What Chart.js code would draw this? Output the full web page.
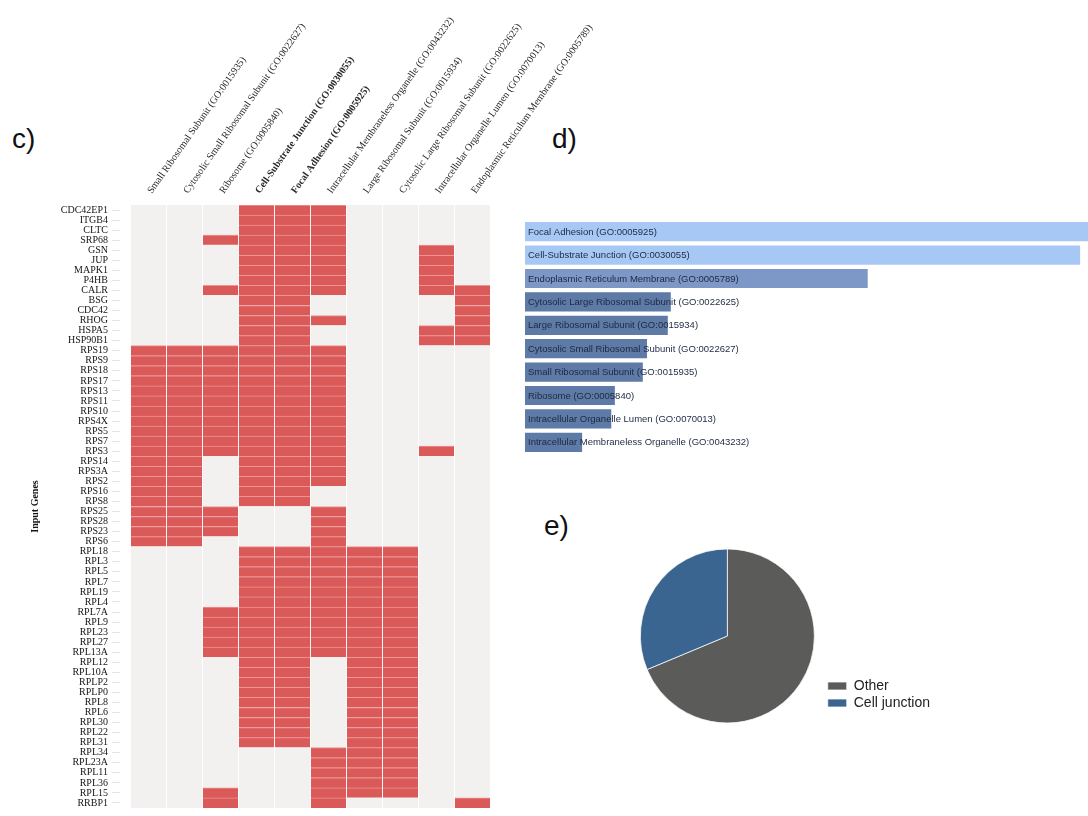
<!DOCTYPE html>
<html>
<head>
<meta charset="utf-8">
<title>Gene set enrichment overview</title>
<script src="https://cdn.jsdelivr.net/npm/chart.js@4.4.1/dist/chart.umd.min.js"></script>
<style>
  html, body { margin: 0; padding: 0; background: #ffffff; }
  body { width: 1088px; height: 816px; overflow: hidden; position: relative; }
  .panel { position: absolute; }
  .tag { position: absolute; font-family: "Liberation Sans", Arial, sans-serif; font-size: 28px; color: #111; line-height: 1; }
</style>
</head>
<body>
<div class="tag" style="left:12px; top:125px;">c)</div>
<div class="tag" style="left:552px; top:125px;">d)</div>
<div class="tag" style="left:544px; top:512px;">e)</div>

<div class="panel" style="left:0; top:0; width:640px; height:818px;"><canvas id="heat"></canvas></div>
<div class="panel" style="left:520px; top:210px; width:600px; height:250px;"><canvas id="bars"></canvas></div>
<div class="panel" style="left:625px; top:540px; width:315px; height:200px;"><canvas id="pie"></canvas></div>

<script>
// ---- c) gene × GO term membership ----
const terms = [
  'Small Ribosomal Subunit (GO:0015935)',
  'Cytosolic Small Ribosomal Subunit (GO:0022627)',
  'Ribosome (GO:0005840)',
  'Cell-Substrate Junction (GO:0030055)',
  'Focal Adhesion (GO:0005925)',
  'Intracellular Membraneless Organelle (GO:0043232)',
  'Large Ribosomal Subunit (GO:0015934)',
  'Cytosolic Large Ribosomal Subunit (GO:0022625)',
  'Intracellular Organelle Lumen (GO:0070013)',
  'Endoplasmic Reticulum Membrane (GO:0005789)'
];
const boldTerms = [
  'Cell-Substrate Junction (GO:0030055)',
  'Focal Adhesion (GO:0005925)'
];
const genes = [
  'CDC42EP1','ITGB4','CLTC','SRP68','GSN','JUP','MAPK1','P4HB','CALR','BSG',
  'CDC42','RHOG','HSPA5','HSP90B1','RPS19','RPS9','RPS18','RPS17','RPS13','RPS11',
  'RPS10','RPS4X','RPS5','RPS7','RPS3','RPS14','RPS3A','RPS2','RPS16','RPS8',
  'RPS25','RPS28','RPS23','RPS6','RPL18','RPL3','RPL5','RPL7','RPL19','RPL4',
  'RPL7A','RPL9','RPL23','RPL27','RPL13A','RPL12','RPL10A','RPLP2','RPLP0','RPL8',
  'RPL6','RPL30','RPL22','RPL31','RPL34','RPL23A','RPL11','RPL36','RPL15','RRBP1'
];
// term indices (into `terms`) that each gene belongs to
const geneHits = [
  [3,4,5],[3,4,5],[3,4,5],[2,3,4,5],[3,4,5,8],[3,4,5,8],[3,4,5,8],[3,4,5,8],[2,3,4,5,8,9],[3,4,9],
  [3,4,9],[3,4,5,9],[3,4,8,9],[3,4,8,9],[0,1,2,3,4,5],[0,1,2,3,4,5],[0,1,2,3,4,5],[0,1,2,3,4,5],[0,1,2,3,4,5],[0,1,2,3,4,5],
  [0,1,2,3,4,5],[0,1,2,3,4,5],[0,1,2,3,4,5],[0,1,2,3,4,5],[0,1,2,3,4,5,8],[0,1,3,4,5],[0,1,3,4,5],[0,1,3,4,5],[0,1,3,4],[0,1,3,4],
  [0,1,2,5],[0,1,2,5],[0,1,2,5],[0,1,5],[3,4,5,6,7],[3,4,5,6,7],[3,4,5,6,7],[3,4,5,6,7],[3,4,5,6,7],[3,4,5,6,7],
  [2,3,4,5,6,7],[2,3,4,5,6,7],[2,3,4,5,6,7],[2,3,4,5,6,7],[2,3,4,5,6,7],[3,4,6,7],[3,4,6,7],[3,4,6,7],[3,4,6,7],[3,4,6,7],
  [3,4,6,7],[3,4,6,7],[3,4,6,7],[3,4,6,7],[5,6,7],[5,6,7],[5,6,7],[5,6,7],[2,5,6,7],[2,5,9]
];

// ---- d) enrichment bar chart ----
const barTerms = [
  'Focal Adhesion (GO:0005925)',
  'Cell-Substrate Junction (GO:0030055)',
  'Endoplasmic Reticulum Membrane (GO:0005789)',
  'Cytosolic Large Ribosomal Subunit (GO:0022625)',
  'Large Ribosomal Subunit (GO:0015934)',
  'Cytosolic Small Ribosomal Subunit (GO:0022627)',
  'Small Ribosomal Subunit (GO:0015935)',
  'Ribosome (GO:0005840)',
  'Intracellular Organelle Lumen (GO:0070013)',
  'Intracellular Membraneless Organelle (GO:0043232)'
];
const barScores = [95.8, 93.3, 57.6, 24.5, 24.0, 20.5, 19.8, 15.1, 14.5, 9.6];

// ---- e) share of genes ----
const pieLabels = ['Other', 'Cell junction'];
const pieShares = [68.7, 31.3];

// ---------------- styling ----------------
const HIT = '#da5a5a', HIT_EDGE = '#f09292', EMPTY = '#f3f1ef';
const SERIF = '"Liberation Serif", "Times New Roman", serif';
const SANS = '"Liberation Sans", Arial, sans-serif';
const GAP = -0.28;        // blank strip between the tick marks and the first column
const LABEL_NUDGE = 0.82; // where each rotated term name starts, in column units

const heatSets = terms.map((t, c) => ({
  label: t,
  data: genes.map(() => [c, c + 1]),
  backgroundColor: geneHits.map(h => h.includes(c) ? HIT : EMPTY),
  borderColor: HIT_EDGE,
  borderWidth: geneHits.map(h => h.includes(c) ? {top: 1, bottom: 0, left: 0, right: 0} : 0),
  borderSkipped: false,
  barPercentage: 1,
  categoryPercentage: 1,
  grouped: false
}));

new Chart(document.getElementById('heat'), {
  type: 'bar',
  data: { labels: genes, datasets: heatSets },
  options: {
    indexAxis: 'y',
    responsive: true,
    maintainAspectRatio: false,
    animation: false,
    layout: { padding: { left: 0, right: 150, top: 0, bottom: 0 } },
    plugins: { legend: { display: false }, tooltip: { enabled: false } },
    scales: {
      x: {
        type: 'linear', position: 'bottom', min: GAP, max: terms.length,
        afterBuildTicks: s => { s.ticks = terms.map((_, i) => ({ value: i })).concat([{ value: terms.length }]); },
        afterFit: s => { s.height = 0; },
        ticks: { display: false },
        grid: { color: 'rgba(255,255,255,0.95)', lineWidth: 1, drawTicks: false, z: 1 },
        border: { display: false }
      },
      xTop: {
        type: 'linear', position: 'top', min: GAP, max: terms.length,
        afterBuildTicks: s => { s.ticks = terms.map((_, i) => ({ value: i + LABEL_NUDGE })); },
        afterFit: s => { s.height = 205; },
        ticks: {
          autoSkip: false, minRotation: 55, maxRotation: 55, padding: 9, color: '#2a2a2a',
          callback: (v, i) => terms[i],
          font: ctx => ({ family: SERIF, size: 10, weight: boldTerms.includes(terms[ctx.index]) ? 'bold' : 'normal' })
        },
        grid: { display: false, drawTicks: false },
        border: { display: false }
      },
      y: {
        type: 'category', offset: true,
        afterFit: s => { s.width = 120; },
        ticks: { autoSkip: false, color: '#151515', padding: 4, font: { family: SERIF, size: 10 } },
        grid: { offset: false, drawOnChartArea: false, drawTicks: true, tickLength: 8, color: '#e4e4e4' },
        border: { display: false },
        title: {
          display: true, text: 'Input Genes', color: '#151515',
          font: { family: SERIF, size: 10, weight: 'bold' },
          padding: { top: 29, bottom: 0 }
        }
      }
    }
  }
});

// term names written inside the enrichment bars
const barText = {
  id: 'barText',
  afterDatasetsDraw(chart) {
    const { ctx, chartArea } = chart;
    const meta = chart.getDatasetMeta(0);
    ctx.save();
    ctx.font = '9.5px ' + SANS;
    ctx.fillStyle = '#1d2940';
    ctx.textBaseline = 'middle';
    ctx.textAlign = 'left';
    meta.data.forEach((bar, i) => ctx.fillText(chart.data.labels[i], chartArea.left + 3, bar.y + 0.5));
    ctx.restore();
  }
};

new Chart(document.getElementById('bars'), {
  type: 'bar',
  data: {
    labels: barTerms,
    datasets: [{
      data: barScores,
      backgroundColor: barScores.map(v => v > 80 ? '#a7c8f4' : v > 40 ? '#7d98c6' : '#5e7aa6'),
      borderWidth: 0,
      barPercentage: 0.82,
      categoryPercentage: 1
    }]
  },
  options: {
    indexAxis: 'y',
    responsive: true,
    maintainAspectRatio: false,
    animation: false,
    layout: { padding: { left: 5, right: 0, top: 10, bottom: 6 } },
    plugins: { legend: { display: false }, tooltip: { enabled: false } },
    scales: {
      x: { display: false, min: 0, max: 100 },
      y: { display: false, offset: true }
    }
  },
  plugins: [barText]
});

new Chart(document.getElementById('pie'), {
  type: 'pie',
  data: {
    labels: pieLabels,
    datasets: [{
      data: pieShares,
      backgroundColor: ['#5b5b59', '#3b6591'],
      borderColor: 'rgba(255,255,255,0.75)',
      borderWidth: 1
    }]
  },
  options: {
    responsive: true,
    maintainAspectRatio: false,
    animation: false,
    radius: 87,
    layout: { padding: { left: 5, top: 19, bottom: 27, right: 0 } },
    plugins: {
      tooltip: { enabled: false },
      legend: {
        position: 'right', align: 'end',
        labels: {
          boxWidth: 19, boxHeight: 8, padding: 3, color: '#222',
          font: { family: SANS, size: 14 }
        }
      }
    }
  }
});
</script>
</body>
</html>
